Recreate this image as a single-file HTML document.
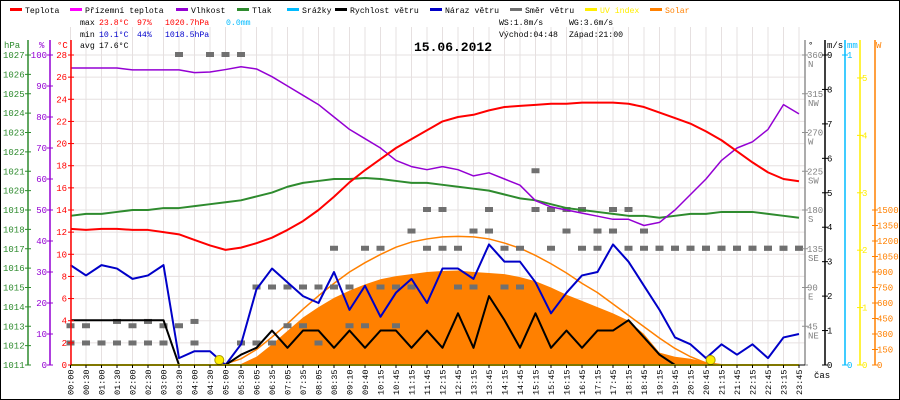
<!DOCTYPE html>
<html><head><meta charset="utf-8">
<style>
html,body{margin:0;padding:0;background:#fff;}
svg{display:block;font-family:"Liberation Mono",monospace;}
</style></head>
<body>
<svg id="chart" width="900" height="400" viewBox="0 0 900 400" xmlns="http://www.w3.org/2000/svg">
<rect x="0.5" y="0.5" width="899" height="399" fill="#fff" stroke="#000"/>
<g id="grid"></g>
<g id="series"></g>
<g id="axes"></g>
<g id="legend" font-size="8.2"></g>
<g font-size="8.2">
<text x="80" y="25" fill="#000">max</text><text x="99" y="25" fill="#f00">23.8°C</text><text x="137" y="25" fill="#f00">97%</text><text x="165" y="25" fill="#f00">1020.7hPa</text><text x="226" y="25" fill="#0bf">0.0mm</text>
<text x="80" y="37" fill="#000">min</text><text x="99" y="37" fill="#00c">10.1°C</text><text x="137" y="37" fill="#00c">44%</text><text x="165" y="37" fill="#00c">1018.5hPa</text>
<text x="80" y="48" fill="#000">avg</text><text x="99" y="48" fill="#000">17.6°C</text>
<text x="499" y="25" fill="#000">WS:1.8m/s</text><text x="569" y="25" fill="#000">WG:3.6m/s</text>
<text x="499" y="37" fill="#000">Východ:04:48</text><text x="569" y="37" fill="#000">Západ:21:00</text>
</g>
<text x="414" y="51" font-size="13" font-weight="bold" fill="#000">15.06.2012</text>
</svg>
<script>
const times=["00:00","00:30","01:00","01:30","02:00","02:30","03:00","03:30","04:00","04:30","05:00","05:30","06:05","06:35","07:05","07:35","08:05","08:35","09:10","09:40","10:15","10:45","11:15","11:45","12:15","12:45","13:15","13:45","14:15","14:45","15:15","15:45","16:15","16:45","17:15","17:45","18:15","18:45","19:15","19:45","20:15","20:45","21:15","21:45","22:15","22:45","23:15","23:45"];
const temperature=[12.3,12.2,12.3,12.3,12.2,12.2,12.0,11.8,11.3,10.8,10.4,10.6,11.0,11.5,12.2,13.0,14.0,15.2,16.5,17.6,18.6,19.6,20.4,21.2,22.0,22.4,22.6,23.0,23.3,23.4,23.5,23.6,23.6,23.7,23.7,23.7,23.6,23.3,22.8,22.3,21.8,21.1,20.3,19.3,18.3,17.4,16.8,16.6];
const humidity=[95.8,95.8,95.8,95.8,95.2,95.2,95.2,95.2,94.3,94.5,95.3,96.2,95.5,93,90,87,84,80,76,73,70,66,64,63,64,63,61,62,60,58,53,51,50,49,48,47,47,45,46,50,55,60,66,70,72,76,84,81];
const pressure=[1018.7,1018.8,1018.8,1018.9,1019.0,1019.0,1019.1,1019.1,1019.2,1019.3,1019.4,1019.5,1019.7,1019.9,1020.2,1020.4,1020.5,1020.6,1020.6,1020.65,1020.6,1020.5,1020.4,1020.4,1020.3,1020.2,1020.1,1020.0,1019.8,1019.6,1019.5,1019.3,1019.1,1019.0,1018.9,1018.8,1018.7,1018.7,1018.6,1018.7,1018.8,1018.8,1018.9,1018.9,1018.9,1018.8,1018.7,1018.6];
const windSpeed=[1.3,1.3,1.3,1.3,1.3,1.3,1.3,0,0,0,0,0.3,0.5,1.0,0.5,1.0,1.0,0.5,1.0,0.5,1.0,1.0,0.5,1.0,0.5,1.5,0.5,2.0,1.3,0.5,1.5,0.5,1.0,0.5,1.0,1.0,1.3,0.8,0.3,0,0,0,0,0,0,0,0,0];
const windGust=[2.9,2.6,2.9,2.8,2.5,2.6,2.9,0.2,0.4,0.4,0,0.6,2.2,2.8,2.4,2.0,1.8,2.7,1.6,2.3,1.4,2.1,2.5,1.8,2.8,2.8,2.5,3.5,3.0,3.0,2.4,1.5,2.1,2.6,2.7,3.5,3.0,2.3,1.6,0.8,0.6,0.2,0.6,0.3,0.6,0.2,0.8,0.9];
const windDir=[25,25,25,50,25,50,25,360,50,360,360,360,25,90,45,90,25,90,45,135,90,45,155,180,180,135,90,155,135,90,225,180,155,180,135,180,135,135,135,135,135,135,135,135,135,135,135,135];
const windDir2=[45,45,25,25,45,25,45,45,25,null,null,25,90,25,90,45,90,135,90,45,135,90,90,135,135,90,155,180,90,135,180,135,180,135,155,155,180,155,135,135,135,135,135,135,135,135,135,135];
const solar=[0,0,0,0,0,0,0,0,0,0,0,10,80,200,330,460,560,650,720,780,830,860,880,900,910,915,900,890,880,850,810,750,680,620,560,500,430,300,120,80,60,30,10,0,0,0,0,0];
const solarMax=[0,0,0,0,0,0,0,0,0,0,10,60,150,270,400,540,670,790,900,990,1070,1140,1190,1220,1240,1245,1240,1220,1180,1130,1060,980,890,790,700,590,480,370,260,160,80,20,0,0,0,0,0,0];
const uvIndex=[0,0,0,0,0,0,0,0,0,0,0,0,0,0,0,0,0,0,0,0,0,0,0,0,0,0,0,0,0,0,0,0,0,0,0,0,0,0,0,0,0,0,0,0,0,0,0,0];
const tempTicks=[0,2,4,6,8,10,12,14,16,18,20,22,24,26,28];
const humTicks=[0,10,20,30,40,50,60,70,80,90,100];
const presTicks=[1011,1012,1013,1014,1015,1016,1017,1018,1019,1020,1021,1022,1023,1024,1025,1026,1027];
const dirTicks=[0,45,90,135,180,225,270,315,360];
const dirNames=["","NE","E","SE","S","SW","W","NW","N"];
const msTicks=[0,1,2,3,4,5,6,7,8,9];
const uvTicks=[0,1,2,3,4,5];
const wTicks=[0,150,300,450,600,750,900,1050,1200,1350,1500];

const NS="http://www.w3.org/2000/svg";
const Y0=365, YT=55, X0=70.5, DX=15.5, XR=805;
const xOf=i=>X0+i*DX;
const yT=v=>Y0-(v/28)*(Y0-YT);
const yH=v=>Y0-(v/100)*(Y0-YT);
const yP=v=>Y0-((v-1011)/16)*(Y0-YT);
const yMS=v=>Y0-(v/9)*(Y0-YT);
const yD=v=>Y0-(v/360)*(Y0-YT);
const yW=v=>Y0-v*(155/1500);
const yUV=v=>Y0-v*(310/5.4);
function mk(tag,attrs,parent){const e=document.createElementNS(NS,tag);for(const k in attrs)e.setAttribute(k,attrs[k]);parent.appendChild(e);return e;}
const grid=document.getElementById('grid'),ser=document.getElementById('series'),ax=document.getElementById('axes'),leg=document.getElementById('legend');

for(let i=0;i<times.length;i++){const l=mk('line',{x1:xOf(i),x2:xOf(i),y1:27,y2:Y0,stroke:'#e6e0e0','stroke-width':1},grid);

}
tempTicks.forEach(t=>{const l=mk('line',{x1:71,x2:XR,y1:yT(t),y2:yT(t),stroke:'#e6e0e0','stroke-width':1},grid);

});

function poly(arr,yf,color,w,name){const pts=arr.map((v,i)=>v==null?null:xOf(i)+','+yf(v)).filter(p=>p).join(' ');
const p=mk('polyline',{points:pts,fill:'none',stroke:color,'stroke-width':w,'stroke-linejoin':'round'},ser);

return p;}

let d='M'+xOf(0)+','+Y0;solar.forEach((v,i)=>{d+=' L'+xOf(i)+','+yW(v);});d+=' L'+xOf(solar.length-1)+','+Y0+' Z';
const sa=mk('path',{d:d,fill:'#ff8000',stroke:'none'},ser);


poly(solarMax,yW,'#ff8000',1.5,'solar-clear-sky-line');
[windDir,windDir2].forEach(arr=>arr.forEach((v,i)=>{if(v==null)return;const r=mk('rect',{x:xOf(i)-4,y:yD(v)-3,width:8,height:5,fill:'#707070'},ser);

}));
poly(pressure,yP,'#2e8b2e',2,'pressure-line');
poly(humidity,yH,'#9400d3',1.5,'humidity-line');
poly(temperature,yT,'#f00',2,'temperature-line');
poly(windGust,yMS,'#0000c8',2,'wind-gust-line');
poly(windSpeed,yMS,'#000',2,'wind-speed-line');
poly(uvIndex,yUV,'#ffee00',2,'uv-index-line');
[[9.6,'sunrise-marker'],[41.3,'sunset-marker']].forEach(m=>{const c=mk('circle',{cx:xOf(m[0]),cy:Y0-5,r:4.5,fill:'#ffee00',stroke:'#aa9900','stroke-width':1},ser);

});

function vline(x,color,name){const l=mk('line',{x1:x,x2:x,y1:40,y2:Y0,stroke:color,'stroke-width':1.5},ax);

}
function lab(x,y,t,color,anchor,name,size){const e=mk('text',{x:x,y:y,fill:color,'font-size':size||9,'text-anchor':anchor||'start'},ax);e.textContent=t;

return e;}
vline(28,'#2e8b2e','pressure-axis');vline(50,'#9400d3','humidity-axis');vline(71,'#f00','temperature-axis');
vline(XR,'#909090','direction-axis');vline(825,'#000','wind-speed-axis');vline(845,'#0bf','rain-axis');vline(860,'#ffee00','uv-axis');vline(875,'#ff8000','solar-axis');
lab(4,48,'hPa','#2e8b2e','start','pressure-unit');lab(39,48,'%','#9400d3','start','humidity-unit');lab(57,48,'°C','#f00','start','temperature-unit');
lab(808,48,'°','#000','start','direction-unit');lab(827,48,'m/s','#000','start','wind-unit');lab(847,48,'mm','#0bf','start','rain-unit');lab(876,48,'W','#ff8000','start','solar-unit');
presTicks.forEach(t=>{lab(3,yP(t)+3,String(t),'#2e8b2e','start','pressure-tick');mk('line',{x1:25,x2:31,y1:yP(t),y2:yP(t),stroke:'#2e8b2e'},ax);});
humTicks.forEach(t=>{lab(47,yH(t)+3,String(t),'#9400d3','end','humidity-tick');mk('line',{x1:47,x2:53,y1:yH(t),y2:yH(t),stroke:'#9400d3'},ax);});
tempTicks.forEach(t=>{lab(67,yT(t)+3,String(t),'#f00','end','temperature-tick');mk('line',{x1:68,x2:74,y1:yT(t),y2:yT(t),stroke:'#f00'},ax);});
dirTicks.forEach((t,k)=>{if(t>0){lab(807,yD(t)+3,String(t),'#808080','start','direction-tick');lab(808,yD(t)+12,dirNames[k],'#808080','start','direction-name');}mk('line',{x1:802,x2:808,y1:yD(t),y2:yD(t),stroke:'#909090'},ax);});
msTicks.forEach(t=>{lab(827,yMS(t)+3,String(t),'#000','start','wind-speed-tick');mk('line',{x1:822,x2:828,y1:yMS(t),y2:yMS(t),stroke:'#000'},ax);});
[0,1].forEach(t=>{const y=t?yMS(9):Y0;lab(847,y+3,String(t),'#0bf','start','rain-tick');mk('line',{x1:842,x2:848,y1:y,y2:y,stroke:'#0bf'},ax);});
uvTicks.forEach(t=>{lab(862,yUV(t)+3,String(t),'#ffee00','start','uv-tick');mk('line',{x1:857,x2:863,y1:yUV(t),y2:yUV(t),stroke:'#ffee00'},ax);});
wTicks.forEach(t=>{lab(877,yW(t)+3,String(t),'#ff8000','start','solar-tick');mk('line',{x1:872,x2:878,y1:yW(t),y2:yW(t),stroke:'#ff8000'},ax);});
const base=mk('line',{x1:71,x2:XR,y1:Y0,y2:Y0,stroke:'#000','stroke-width':1},ax);


times.forEach((t,i)=>{const e=mk('text',{x:0,y:0,fill:'#000','font-size':8.5,transform:'translate('+(xOf(i)+3)+',395) rotate(-90)'},ax);e.textContent=t;


mk('line',{x1:xOf(i),x2:xOf(i),y1:Y0,y2:Y0+3,stroke:'#000'},ax);});
lab(814,378,'čas','#000','start','x-axis-title',9);

const items=[["Teplota","#f00"],["Přízemní teplota","#f0f"],["Vlhkost","#9400d3"],["Tlak","#2e8b2e"],["Srážky","#0bf"],["Rychlost větru","#000"],["Náraz větru","#0000c8"],["Směr větru","#707070"],["UV index","#ffee00"],["Solar","#ff8000"]];
const lx=[10,70,176,237,287,335,430,510,585,650];
items.forEach((it,k)=>{const g=mk('g',{},leg);


mk('rect',{x:lx[k],y:8,width:12,height:3,fill:it[1]},g);
const t=mk('text',{x:lx[k]+15,y:13,fill:(k>=8?it[1]:'#000')},g);t.textContent=it[0];});
</script>
</body></html>
